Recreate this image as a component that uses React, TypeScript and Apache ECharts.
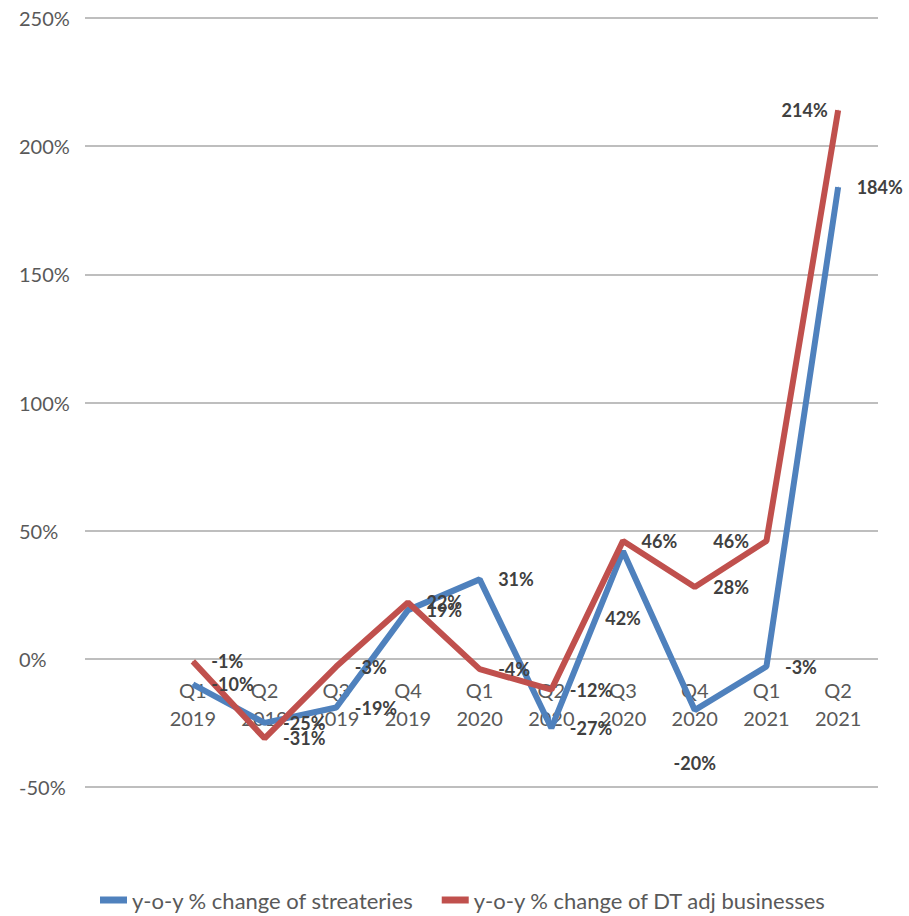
import React, { useEffect, useRef } from "react";
import * as echarts from "echarts";

// Quarters on the category axis
const quarters = [
  "Q1\n2019", "Q2\n2019", "Q3\n2019", "Q4\n2019",
  "Q1\n2020", "Q2\n2020", "Q3\n2020", "Q4\n2020",
  "Q1\n2021", "Q2\n2021",
];

// Year-over-year change, in percent
const streateries = [-10, -25, -19, 19, 31, -27, 42, -20, -3, 184];
const dtAdjBusinesses = [-1, -31, -3, 22, -4, -12, 46, 28, 46, 214];

const seriesNames = [
  "y-o-y % change of streateries",
  "y-o-y % change of DT adj businesses",
];

// Value axis range and step
const yMin = -50;
const yMax = 250;
const yStep = 50;

const BLUE = "#4F81BD";
const RED = "#C0504D";
const FONT = "Lato";

type LabelTweak = { position?: string; distance?: number; offset?: [number, number] };

// Per-point placement of the value labels (default: right of the point)
const blueLabelTweaks: Record<number, LabelTweak> = {
  6: { position: "bottom", distance: 57, offset: [11, 0] },
  7: { position: "bottom", distance: 43, offset: [11, 0] },
};
const redLabelTweaks: Record<number, LabelTweak> = {
  8: { position: "left", distance: 17, offset: [0, -41] },
  9: { position: "left", distance: 10, offset: [0, 10] },
};

function buildData(values: number[], tweaks: Record<number, LabelTweak>) {
  return values.map((v, i) => {
    const t = tweaks[i];
    if (!t) return v;
    return { value: v, label: { ...t } };
  });
}

export default function App() {
  const ref = useRef<HTMLDivElement>(null);

  useEffect(() => {
    if (!ref.current) return;
    const chart = echarts.init(ref.current, undefined, { renderer: "svg" });

    const valueLabel = {
      show: true,
      position: "right",
      distance: 18,
      offset: [0, 3],
      formatter: "{c}%",
      color: "#404040",
      fontFamily: FONT,
      fontWeight: "bold",
      fontSize: 18,
    };

    const top = 18;
    const bottom = 129;
    // zero line sits this far above the canvas bottom
    const zeroFromBottom = 916 - 659;

    chart.setOption({
      animation: false,
      backgroundColor: "#ffffff",
      grid: [
        // gridlines and percent labels
        { left: 85, right: 31, top, bottom },
        // lines
        { left: 157, right: 35, top, bottom },
        // quarter labels hanging under the zero line
        { left: 157, right: 35, top, bottom: zeroFromBottom },
      ],
      xAxis: [
        { type: "value", gridIndex: 0, show: false, min: 0, max: 1 },
        {
          type: "category",
          gridIndex: 1,
          data: quarters,
          boundaryGap: true,
          show: false,
        },
        {
          type: "category",
          gridIndex: 2,
          data: quarters,
          boundaryGap: true,
          position: "bottom",
          axisLine: { show: false },
          axisTick: { show: false },
          axisLabel: {
            color: "#595959",
            fontFamily: FONT,
            fontSize: 20,
            lineHeight: 28,
            margin: 17,
            interval: 0,
          },
        },
      ],
      yAxis: [
        {
          type: "value",
          gridIndex: 0,
          min: yMin,
          max: yMax,
          interval: yStep,
          axisLine: { show: false },
          axisTick: { show: false },
          axisLabel: {
            formatter: "{value}%",
            color: "#595959",
            fontFamily: FONT,
            fontSize: 20,
            align: "left",
            margin: 66,
          },
          splitLine: { lineStyle: { color: "#BEBEBE", width: 2 } },
        },
        {
          type: "value",
          gridIndex: 1,
          min: yMin,
          max: yMax,
          interval: yStep,
          show: false,
        },
        { type: "value", gridIndex: 2, show: false, min: 0, max: 1 },
      ],
      legend: {
        top: 884,
        left: 95,
        itemWidth: 27,
        itemHeight: 7,
        itemGap: 28,
        icon: "rect",
        textStyle: { color: "#595959", fontFamily: FONT, fontSize: 22 },
        data: seriesNames,
      },
      series: [
        {
          name: seriesNames[0],
          type: "line",
          xAxisIndex: 1,
          yAxisIndex: 1,
          data: buildData(streateries, blueLabelTweaks),
          symbol: "circle",
          symbolSize: 1,
          showSymbol: true,
          itemStyle: { color: BLUE },
          lineStyle: { color: BLUE, width: 6 },
          label: valueLabel,
          labelLayout: { hideOverlap: false },
        },
        {
          name: seriesNames[1],
          type: "line",
          xAxisIndex: 1,
          yAxisIndex: 1,
          data: buildData(dtAdjBusinesses, redLabelTweaks),
          symbol: "circle",
          symbolSize: 1,
          showSymbol: true,
          itemStyle: { color: RED },
          lineStyle: { color: RED, width: 6 },
          label: valueLabel,
          labelLayout: { hideOverlap: false },
        },
      ],
    });

    return () => chart.dispose();
  }, []);

  return (
    <div
      ref={ref}
      style={{ position: "fixed", left: 0, top: 0, width: 909, height: 916 }}
    />
  );
}
